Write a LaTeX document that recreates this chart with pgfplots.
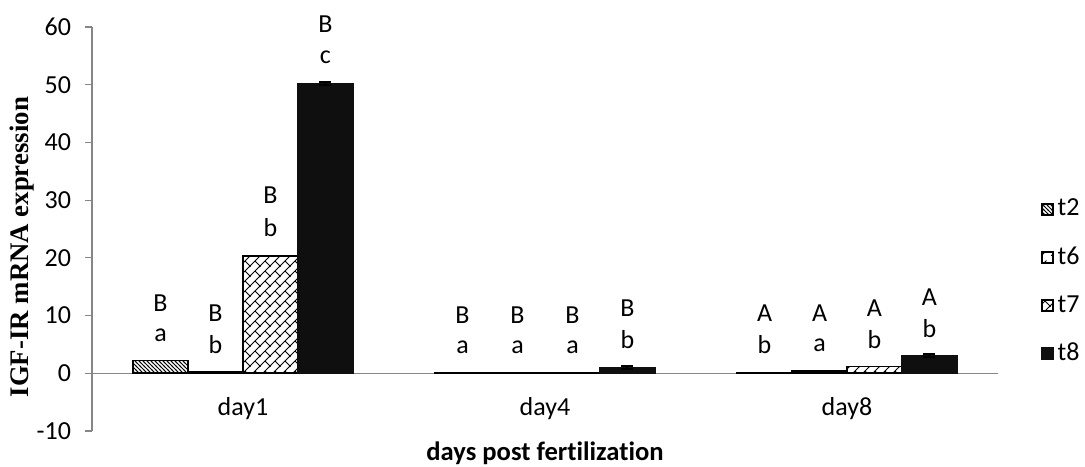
\documentclass[border=0pt]{standalone}
\usepackage{fontspec}
\setmainfont{Carlito}[Ligatures=NoCommon]
\newfontfamily\timesfont{Liberation Serif}
\usepackage{pgfplots}
\pgfplotsset{compat=1.18}
\usetikzlibrary{patterns}

\definecolor{axgray}{HTML}{868686}
\definecolor{barblack}{HTML}{0F0F0F}
\newcommand\fs{\fontsize{13}{15.5}\selectfont}

% dense \\\ lines for t2
\pgfdeclarepatternformonly{densenw}{\pgfqpoint{-0.5pt}{-0.5pt}}{\pgfqpoint{2.5pt}{2.5pt}}{\pgfqpoint{2pt}{2pt}}{%
  \pgfsetlinewidth{0.45pt}%
  \pgfpathmoveto{\pgfqpoint{-0.5pt}{2.5pt}}\pgfpathlineto{\pgfqpoint{2.5pt}{-0.5pt}}\pgfusepath{stroke}}
% dashed /// for t6
\pgfdeclarepatternformonly{dashne}{\pgfqpoint{0pt}{0pt}}{\pgfqpoint{5pt}{5pt}}{\pgfqpoint{5pt}{5pt}}{%
  \pgfsetlinewidth{0.5pt}%
  \pgfpathmoveto{\pgfqpoint{0.6pt}{0.6pt}}\pgfpathlineto{\pgfqpoint{3.4pt}{3.4pt}}\pgfusepath{stroke}}
% diagonal bricks for t7
\pgfdeclarepatternformonly{diagbricks}{\pgfqpoint{-0.5pt}{-0.5pt}}{\pgfqpoint{5.5pt}{5.5pt}}{\pgfqpoint{5pt}{5pt}}{%
  \pgfsetlinewidth{0.45pt}%
  \pgfpathmoveto{\pgfqpoint{-0.5pt}{-0.5pt}}\pgfpathlineto{\pgfqpoint{5.5pt}{5.5pt}}%
  \pgfpathmoveto{\pgfqpoint{5.3pt}{-0.3pt}}\pgfpathlineto{\pgfqpoint{2.5pt}{2.5pt}}\pgfusepath{stroke}}

\begin{document}
\begin{tikzpicture}
\useasboundingbox (-46pt,-17.5pt) rectangle (496.5pt,215.5pt);
\begin{axis}[
  at={(0,0)}, anchor=south west,
  scale only axis, width=453pt, height=202pt,
  xmin=-0.5, xmax=2.5, ymin=-10, ymax=60,
  clip=false,
  axis x line=bottom, axis y line=left,
  axis line style={-, axgray, line width=0.6pt},
  x axis line style={draw=none},
  xtick={0,1,2}, xticklabels={day1,day4,day8},
  xtick style={draw=none},
  ytick={-10,0,...,60},
  ytick style={axgray, line width=0.6pt},
  tick align=outside, major tick length=3.5pt,
  yticklabel={\pgfmathprintnumber[assume math mode=true]{\tick}},
  tick label style={font=\fs},
  yticklabel style={xshift=-3.5pt},
  xticklabel style={anchor=center, yshift=14.5pt},
  xlabel={\bfseries days post fertilization},
  xlabel style={font=\fontsize{13.3}{16}\selectfont, at={(axis description cs:0.5,0)}, anchor=center, yshift=-11pt},
  ylabel={\timesfont\bfseries IGF-IR mRNA expression},
  ylabel style={font=\fontsize{13.4}{16}\selectfont, at={(axis description cs:-0.077,0.455)}, anchor=center},
  ybar, bar width=0.182,
  legend style={at={(axis description cs:1.04,0.37)}, anchor=west, draw=none, fill=none,
    font=\fs, row sep=10pt},
  legend cell align=left,
  sq/.style={legend image code/.code={\draw[##1, line width=1pt] (0pt,-2.75pt) rectangle (5.5pt,2.75pt);}},
]
\draw[axgray, line width=0.6pt] (axis cs:-0.5,0) -- (axis cs:2.5,0);

\addplot[draw=black, line width=0.8pt, pattern=densenw, bar shift=-0.273, sq]
  coordinates {(0,2.2) (1,0.1) (2,0.1)};
\addlegendentry{t2}
\addplot[draw=black, line width=0.8pt, pattern=dashne, bar shift=-0.091, sq]
  coordinates {(0,0.3) (1,0.1) (2,0.4)};
\addlegendentry{t6}
\addplot[draw=black, line width=0.8pt, pattern=diagbricks, bar shift=0.091, sq]
  coordinates {(0,20.3) (1,0.1) (2,1.2)};
\addlegendentry{t7}
\addplot[draw=barblack, fill=barblack, line width=0.8pt, bar shift=0.273, sq,
  error bars/.cd, y dir=both, y explicit,
  error bar style={black, line width=1pt},
  error mark options={rotate=90, mark size=3pt, line width=1pt, black}]
  coordinates {(0,50.2) +- (0,0.25) (1,1.0) +- (0,0.2) (2,3.1) +- (0,0.3)};
\addlegendentry{t8}

% significance letters
\begin{scope}[every node/.style={font=\fs}]
\node at (axis cs:-0.273,12.1) {B}; \node at (axis cs:-0.273,6.6) {a};
\node at (axis cs:-0.091,10.4) {B}; \node at (axis cs:-0.091,4.9) {b};
\node at (axis cs:0.091,30.8) {B};  \node at (axis cs:0.091,25.3) {b};
\node at (axis cs:0.273,60.5) {B};  \node at (axis cs:0.273,54.8) {c};

\node at (axis cs:0.727,10.1) {B}; \node at (axis cs:0.727,4.5) {a};
\node at (axis cs:0.909,10.1) {B}; \node at (axis cs:0.909,4.5) {a};
\node at (axis cs:1.091,10.1) {B}; \node at (axis cs:1.091,4.5) {a};
\node at (axis cs:1.273,11.2) {B}; \node at (axis cs:1.273,5.8) {b};

\node at (axis cs:1.727,10.4) {A}; \node at (axis cs:1.727,4.9) {b};
\node at (axis cs:1.909,10.4) {A}; \node at (axis cs:1.909,4.9) {a};
\node at (axis cs:2.091,11.3) {A}; \node at (axis cs:2.091,5.9) {b};
\node at (axis cs:2.273,13.2) {A}; \node at (axis cs:2.273,7.8) {b};
\end{scope}
\end{axis}
\end{tikzpicture}
\end{document}
